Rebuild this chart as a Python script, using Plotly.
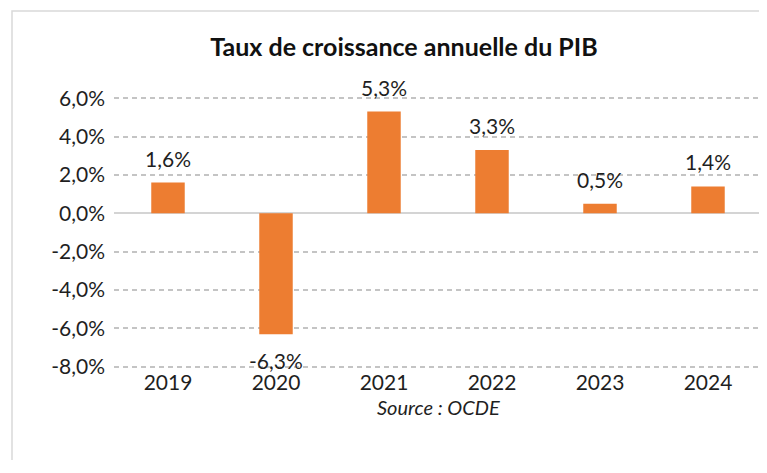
import plotly.graph_objects as go

years = ["2019", "2020", "2021", "2022", "2023", "2024"]
growth = [1.6, -6.3, 5.3, 3.3, 0.5, 1.4]
tick_vals = [6, 4, 2, 0, -2, -4, -6, -8]
tick_text = ["6,0%", "4,0%", "2,0%", "0,0%", "-2,0%", "-4,0%", "-6,0%", "-8,0%"]
title_text = "Taux de croissance annuelle du PIB"
source_text = "Source : OCDE"

FONT = "Lato"
TXT = "#1f1f1f"
BAR = "#ED7D31"

fig = go.Figure()
fig.add_trace(go.Bar(x=years, y=growth, marker=dict(color=BAR, line=dict(width=0)),
                     hoverinfo="skip"))

# value labels, placed at each category's index on the category axis
for i, v in enumerate(growth):
    lbl = f"{v:.1f}%".replace(".", ",")
    fig.add_annotation(x=i, y=v, text=lbl, showarrow=False,
                       yanchor="bottom" if v >= 0 else "top",
                       yshift=10 if v >= 0 else -12,
                       font=dict(family=FONT, size=21, color=TXT))

# page is offset by the 8px body margin; keep the figure inside the viewport
OFF = 8
W, H = 755, 452
L, R, T, B = 114 - OFF, W - (762 - OFF), 97 - OFF, H - (368 - OFF)
pw = W - L - R
ph = H - T - B

def py(y):  # page pixel y -> paper y
    return (ph - (y - OFF - T)) / ph

def px(x):  # page pixel x -> paper x
    return (x - OFF - L) / pw

fig.add_shape(type="rect", xref="paper", yref="paper",
              x0=px(12), x1=px(800),
              y0=py(520), y1=py(11),
              line=dict(color="#D9D9D9", width=1.5), fillcolor="rgba(0,0,0,0)", layer="below")

fig.add_annotation(xref="paper", yref="paper", x=0.5, y=py(407), yanchor="middle",
                   text="<i>" + source_text + "</i>", showarrow=False,
                   font=dict(family=FONT, size=20, color=TXT))

fig.update_layout(
    width=W, height=H,
    margin=dict(l=L, r=R, t=T, b=B),
    paper_bgcolor="white", plot_bgcolor="white",
    title=dict(text="<b>" + title_text + "</b>", x=(404 - OFF) / W, xanchor="center",
               y=1 - (47 - OFF) / H, yanchor="middle", font=dict(family=FONT, size=25, color="#111111")),
    bargap=0.69,
    showlegend=False,
    font=dict(family=FONT, size=21, color=TXT),
)
fig.update_xaxes(type="category", showline=False, showgrid=False, ticks="",
                 tickfont=dict(family=FONT, size=21, color=TXT))
fig.update_yaxes(range=[-8.06, 6.06], tickvals=tick_vals, ticktext=tick_text,
                 showgrid=True, gridcolor="#C4C4C4", gridwidth=1.5, griddash="5px,4px",
                 zeroline=True, zerolinecolor="#D4D4D4", zerolinewidth=1.5,
                 showline=False, ticks="", ticklabelstandoff=8,
                 tickfont=dict(family=FONT, size=21, color=TXT))

fig.write_html("out.html")
